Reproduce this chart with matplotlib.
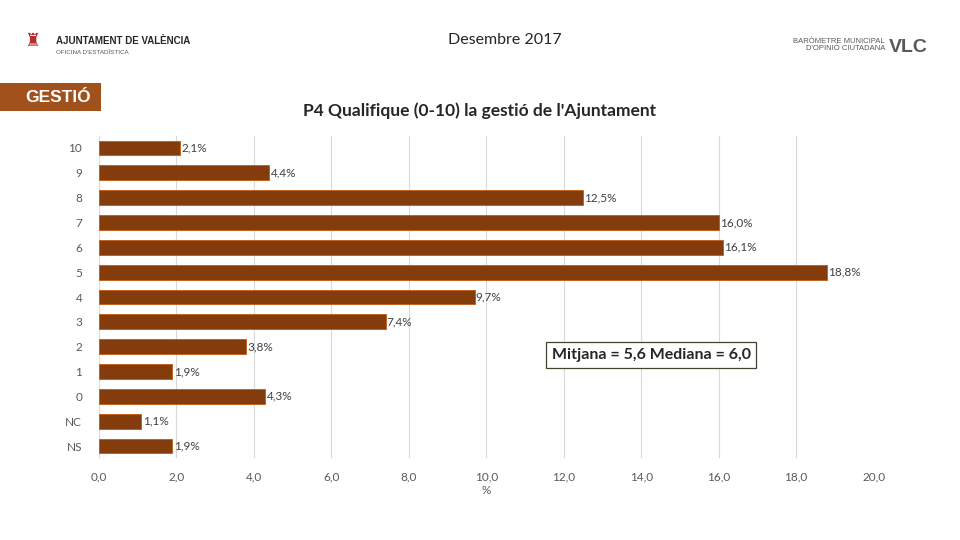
import matplotlib
matplotlib.use("Agg")
import matplotlib.pyplot as plt
from matplotlib.patches import Rectangle

plt.rcParams['font.family'] = ['Lato', 'DejaVu Sans']

categories = ['10', '9', '8', '7', '6', '5', '4', '3', '2', '1', '0', 'NC', 'NS']
values = [2.1, 4.4, 12.5, 16.0, 16.1, 18.8, 9.7, 7.4, 3.8, 1.9, 4.3, 1.1, 1.9]
xticks = [0, 2, 4, 6, 8, 10, 12, 14, 16, 18, 20]

bar_color = '#843C0C'

fig = plt.figure(figsize=(9.6, 5.4), dpi=100)
ax = fig.add_axes([0.103, 0.151, 0.807, 0.598])

ypos = list(range(len(categories)))
ax.barh(ypos, values, height=0.6, color=bar_color, edgecolor='#C55A11', linewidth=0.6, zorder=3)
for y, v in zip(ypos, values):
    ax.text(v + 0.03, y, f"{v:.1f}%".replace('.', ','), va='center', ha='left',
            fontsize=8.5, color='#404040', zorder=4)

ax.set_ylim(len(categories) - 0.5, -0.5)
ax.set_yticks(ypos)
ax.set_yticklabels(categories, fontsize=8.5, color='#595959')
ax.set_xlim(0, 20)
ax.set_xticks(xticks)
ax.set_xticklabels([f"{t:.1f}".replace('.', ',') for t in xticks], fontsize=8.5, color='#595959')
ax.tick_params(length=0, pad=9)
ax.tick_params(axis='y', pad=12)
ax.grid(axis='x', color='#D9D9D9', linewidth=0.8, zorder=0)
for s in ax.spines.values():
    s.set_visible(False)
ax.set_xlabel('%', fontsize=8.5, color='#595959', labelpad=2)

fig.text(651 / 960, 1 - 355 / 540, 'Mitjana = 5,6 Mediana = 6,0',
         ha='center', va='center', fontsize=11.5, fontweight='bold', color='#262626',
         bbox=dict(boxstyle='square,pad=0.35', facecolor='white', edgecolor='#3F4634', linewidth=0.9))

fig.text(0.5, 1 - 111 / 540, "P4 Qualifique (0-10) la gestió de l'Ajuntament", ha='center', va='center',
         fontsize=12.5, fontweight='bold', color='#262626')
fig.text(0.526, 1 - 40 / 540, 'Desembre 2017', ha='center', va='center', fontsize=11.5, color='#262626')

fig.patches.append(Rectangle((0.0, 1 - 111 / 540), 101 / 960, 28 / 540, transform=fig.transFigure,
                             facecolor='#A0511C', edgecolor='none'))
fig.text(0.026, 1 - 97 / 540, 'GESTIÓ', ha='left', va='center', fontsize=12.5, fontweight='bold',
         color='white', family=['Liberation Sans', 'DejaVu Sans'])

fig.text(0.058, 1 - 41 / 540, 'AJUNTAMENT DE VALÈNCIA', ha='left', va='center', fontsize=7,
         fontweight='bold', color='#262626', family=['Liberation Sans', 'DejaVu Sans'])
fig.text(0.058, 1 - 52 / 540, "OFICINA D'ESTADÍSTICA", ha='left', va='center', fontsize=4.5,
         color='#595959', family=['Liberation Sans', 'DejaVu Sans'])
fig.text(0.034, 1 - 41 / 540, '♜', ha='center', va='center', fontsize=13, color='#B03030')

fig.text(0.922, 1 - 45 / 540, 'BARÒMETRE MUNICIPAL\nD\'OPINIÓ CIUTADANA', ha='right', va='center',
         fontsize=5.5, color='#595959', linespacing=1.1, family=['Liberation Sans', 'DejaVu Sans'])
fig.text(0.926, 1 - 47 / 540, 'VLC', ha='left', va='center', fontsize=14, fontweight='bold',
         color='#595959', family=['Liberation Sans', 'DejaVu Sans'])

fig.savefig('out.png', dpi=100)
